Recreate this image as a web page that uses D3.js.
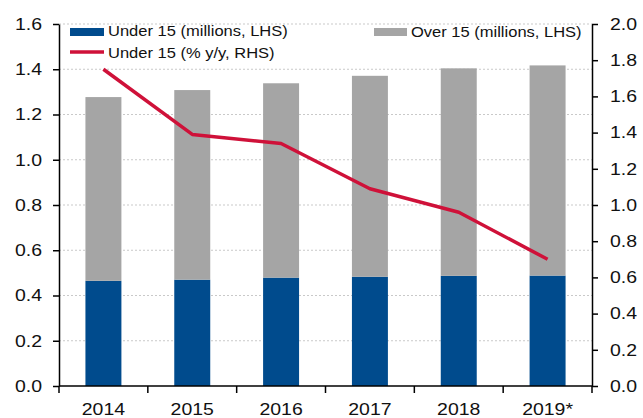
<!DOCTYPE html>
<html>
<head>
<meta charset="utf-8">
<script src="https://cdn.jsdelivr.net/npm/d3@7"></script>
<style>
  html, body { margin: 0; padding: 0; background: #fff; }
  svg { display: block; font-family: "Liberation Sans", Arial, sans-serif; }
</style>
</head>
<body>
<svg id="chart" width="643" height="418"></svg>
<script>
// ---- data ----
const years = ["2014", "2015", "2016", "2017", "2018", "2019*"];
const under15 = [0.465, 0.470, 0.479, 0.483, 0.487, 0.488];       // millions, LHS
const over15  = [0.812, 0.838, 0.859, 0.888, 0.917, 0.929];       // millions, LHS
const under15Growth = [1.75, 1.39, 1.34, 1.09, 0.96, 0.70];       // % y/y, RHS
const leftTicks = [0, 0.2, 0.4, 0.6, 0.8, 1.0, 1.2, 1.4, 1.6];
const rightTicks = [0, 0.2, 0.4, 0.6, 0.8, 1.0, 1.2, 1.4, 1.6, 1.8, 2.0];

// ---- layout ----
const svg = d3.select("#chart");
const m = { left: 59, right: 592, top: 24, bottom: 386 };
const SX = 1.18; // horizontal text stretch
const blue = "#004b8d", gray = "#a5a5a5", red = "#cf1139";

const x = d3.scaleBand().domain(years).range([m.left, m.right])
  .paddingInner(0.595).paddingOuter(0.595 / 2);
const yL = d3.scaleLinear().domain([0, 1.6]).range([m.bottom, m.top]);
const yR = d3.scaleLinear().domain([0, 2.0]).range([m.bottom, m.top]);

// gridlines
svg.append("g").selectAll("line").data(leftTicks.filter(d => d > 0)).join("line")
  .attr("x1", m.left).attr("x2", m.right)
  .attr("y1", d => yL(d)).attr("y2", d => yL(d))
  .attr("stroke", "#c9c9c9").attr("stroke-width", 1).attr("stroke-dasharray", "2,2");

// bars
const rows = years.map((y, i) => ({ year: y, u: under15[i], o: over15[i] }));
const bars = svg.append("g");
bars.selectAll("rect.u").data(rows).join("rect").attr("class", "u")
  .attr("x", d => x(d.year)).attr("width", x.bandwidth())
  .attr("y", d => yL(d.u)).attr("height", d => yL(0) - yL(d.u))
  .attr("fill", blue);
bars.selectAll("rect.o").data(rows).join("rect").attr("class", "o")
  .attr("x", d => x(d.year)).attr("width", x.bandwidth())
  .attr("y", d => yL(d.u + d.o)).attr("height", d => yL(d.u) - yL(d.u + d.o))
  .attr("fill", gray);

// line
const line = d3.line().x((d, i) => x(years[i]) + x.bandwidth() / 2).y(d => yR(d));
svg.append("path").datum(under15Growth).attr("d", line)
  .attr("fill", "none").attr("stroke", red).attr("stroke-width", 3.5)
  .attr("stroke-linejoin", "round");

// left axis
const axL = svg.append("g").attr("transform", `translate(${m.left},0)`)
  .call(d3.axisLeft(yL).tickValues(leftTicks).tickFormat(d3.format(".1f")).tickSize(6).tickPadding(11).tickSizeOuter(0));
// right axis
const axR = svg.append("g").attr("transform", `translate(${m.right},0)`)
  .call(d3.axisRight(yR).tickValues(rightTicks).tickFormat(d3.format(".1f")).tickSize(6).tickPadding(12).tickSizeOuter(0));
[axL, axR].forEach(ax => {
  ax.select(".domain").attr("stroke", "#000").attr("stroke-width", 1.5);
  ax.selectAll(".tick line").attr("stroke", "#000").attr("stroke-width", 1.5);
  ax.selectAll("text").attr("font-size", 16.5).attr("fill", "#111")
    .attr("font-family", "'Liberation Sans', Arial, sans-serif")
    .attr("x", function () { return +d3.select(this).attr("x") / SX; })
    .attr("transform", `scale(${SX},1)`);
});

// bottom axis (ticks at band boundaries, labels at centres)
const step = x.step();
const bounds = years.map(d => x(d) + x.bandwidth() / 2 - step / 2).concat([x.range()[1]]);
const axB = svg.append("g");
axB.append("line").attr("x1", m.left).attr("x2", m.right)
  .attr("y1", yL(0)).attr("y2", yL(0)).attr("stroke", "#000").attr("stroke-width", 1.5);
axB.selectAll("line.t").data(bounds).join("line").attr("class", "t")
  .attr("x1", d => d).attr("x2", d => d).attr("y1", yL(0)).attr("y2", yL(0) + 7)
  .attr("stroke", "#000").attr("stroke-width", 1.5);
axB.selectAll("text").data(years).join("text")
  .attr("transform", d => `translate(${x(d) + x.bandwidth() / 2},${yL(0) + 28.5}) scale(${SX},1)`)
  .attr("text-anchor", "middle").attr("font-size", 16.5).attr("fill", "#111")
  .text(d => d);

// legend
const lg = svg.append("g");
lg.append("rect").attr("x", 70).attr("y", 28).attr("width", 34).attr("height", 8).attr("fill", blue);
lg.append("text").attr("transform", `translate(108,36) scale(${SX},1)`)
  .attr("font-size", 14).attr("fill", "#111").text("Under 15 (millions, LHS)");
lg.append("line").attr("x1", 70).attr("x2", 104).attr("y1", 52).attr("y2", 52)
  .attr("stroke", red).attr("stroke-width", 3.5);
lg.append("text").attr("transform", `translate(108,57.5) scale(${SX},1)`)
  .attr("font-size", 14).attr("fill", "#111").text("Under 15 (% y/y, RHS)");
lg.append("rect").attr("x", 374).attr("y", 28).attr("width", 33).attr("height", 8).attr("fill", gray);
lg.append("text").attr("transform", `translate(411,36.5) scale(${SX},1)`)
  .attr("font-size", 14).attr("fill", "#111").text("Over 15 (millions, LHS)");
</script>
</body>
</html>
